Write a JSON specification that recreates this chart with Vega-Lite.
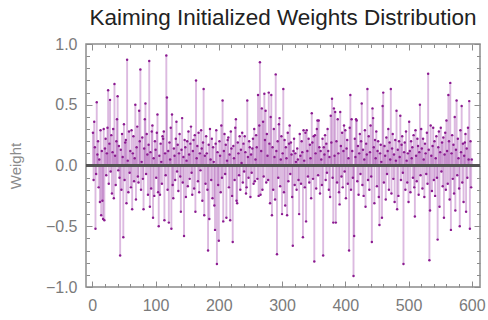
{
  "$schema": "https://vega.github.io/schema/vega-lite/v6.json",
  "width": 394,
  "height": 243,
  "autosize": "none",
  "padding": {"left": 86, "top": 44, "right": 8, "bottom": 33},
  "background": "white",
  "config": {
    "view": {"stroke": "#8c8c8c", "strokeWidth": 1.5},
    "axis": {"grid": false, "domain": false, "labelFont": "Liberation Sans", "labelFontSize": 16, "labelColor": "#7a7a7a", "tickColor": "#8c8c8c", "titleFont": "Liberation Sans", "titleFontWeight": "normal", "titleColor": "#8a8a8a", "titleFontSize": 15}
  },
  "title": {"text": "Kaiming Initialized Weights Distribution", "font": "Liberation Sans", "fontSize": 22.5, "fontWeight": "normal", "color": "#222222", "anchor": "middle", "offset": 7},
  "data": {"name": "d", "values": [
{"i":1,"w":0.27},{"i":2,"w":-0.12},{"i":3,"w":0.36},{"i":4,"w":0.15},{"i":5,"w":-0.52},{"i":6,"w":-0.07},{"i":7,"w":0.52},{"i":8,"w":0.09},{"i":9,"w":0.2},{"i":10,"w":-0.18},
{"i":11,"w":0.05},{"i":12,"w":-0.3},{"i":13,"w":0.29},{"i":14,"w":-0.41},{"i":15,"w":0.12},{"i":16,"w":-0.29},{"i":17,"w":-0.44},{"i":18,"w":0.3},{"i":19,"w":-0.45},{"i":20,"w":0.14},
{"i":21,"w":0.22},{"i":22,"w":-0.08},{"i":23,"w":0.1},{"i":24,"w":0.31},{"i":25,"w":0.62},{"i":26,"w":-0.15},{"i":27,"w":0.18},{"i":28,"w":0.54},{"i":29,"w":-0.05},{"i":30,"w":0.25},
{"i":31,"w":-0.23},{"i":32,"w":0.11},{"i":33,"w":0.3},{"i":34,"w":-0.27},{"i":35,"w":0.67},{"i":36,"w":0.08},{"i":37,"w":-0.16},{"i":38,"w":0.2},{"i":39,"w":0.38},{"i":40,"w":0.57},
{"i":41,"w":-0.04},{"i":42,"w":0.16},{"i":43,"w":-0.1},{"i":44,"w":-0.74},{"i":45,"w":0.13},{"i":46,"w":-0.2},{"i":47,"w":0.26},{"i":48,"w":0.07},{"i":49,"w":-0.59},{"i":50,"w":0.34},
{"i":51,"w":-0.12},{"i":52,"w":0.19},{"i":53,"w":0.21},{"i":54,"w":-0.31},{"i":55,"w":0.87},{"i":56,"w":0.04},{"i":57,"w":-0.22},{"i":58,"w":0.28},{"i":59,"w":-0.06},{"i":60,"w":0.12},
{"i":61,"w":-0.18},{"i":62,"w":0.29},{"i":63,"w":-0.36},{"i":64,"w":0.1},{"i":65,"w":0.24},{"i":66,"w":-0.13},{"i":67,"w":0.06},{"i":68,"w":0.5},{"i":69,"w":-0.28},{"i":70,"w":0.15},
{"i":71,"w":0.32},{"i":72,"w":-0.09},{"i":73,"w":-0.14},{"i":74,"w":0.45},{"i":75,"w":0.2},{"i":76,"w":0.79},{"i":77,"w":-0.2},{"i":78,"w":0.03},{"i":79,"w":0.23},{"i":80,"w":-0.11},
{"i":81,"w":-0.36},{"i":82,"w":0.14},{"i":83,"w":0.38},{"i":84,"w":0.51},{"i":85,"w":-0.07},{"i":86,"w":0.26},{"i":87,"w":0.09},{"i":88,"w":-0.24},{"i":89,"w":0.17},{"i":90,"w":0.86},
{"i":91,"w":-0.34},{"i":92,"w":0.11},{"i":93,"w":-0.19},{"i":94,"w":0.28},{"i":95,"w":0.33},{"i":96,"w":-0.43},{"i":97,"w":0.06},{"i":98,"w":-0.25},{"i":99,"w":0.2},{"i":100,"w":0.13},
{"i":101,"w":-0.1},{"i":102,"w":0.27},{"i":103,"w":0.42},{"i":104,"w":-0.22},{"i":105,"w":-0.5},{"i":106,"w":0.08},{"i":107,"w":-0.24},{"i":108,"w":0.18},{"i":109,"w":0.03},{"i":110,"w":-0.15},
{"i":111,"w":0.24},{"i":112,"w":0.22},{"i":113,"w":0.28},{"i":114,"w":-0.45},{"i":115,"w":0.1},{"i":116,"w":-0.08},{"i":117,"w":0.905},{"i":118,"w":0.56},{"i":119,"w":-0.2},{"i":120,"w":0.12},
{"i":121,"w":-0.47},{"i":122,"w":0.19},{"i":123,"w":0.05},{"i":124,"w":0.31},{"i":125,"w":-0.52},{"i":126,"w":0.42},{"i":127,"w":-0.16},{"i":128,"w":-0.27},{"i":129,"w":0.14},{"i":130,"w":0.08},
{"i":131,"w":-0.12},{"i":132,"w":0.22},{"i":133,"w":0.36},{"i":134,"w":-0.05},{"i":135,"w":0.17},{"i":136,"w":-0.21},{"i":137,"w":0.1},{"i":138,"w":0.26},{"i":139,"w":-0.09},{"i":140,"w":-0.38},
{"i":141,"w":0.13},{"i":142,"w":0.39},{"i":143,"w":-0.14},{"i":144,"w":0.07},{"i":145,"w":-0.58},{"i":146,"w":0.21},{"i":147,"w":0.15},{"i":148,"w":-0.26},{"i":149,"w":0.04},{"i":150,"w":0.2},
{"i":151,"w":-0.17},{"i":152,"w":0.28},{"i":153,"w":0.09},{"i":154,"w":-0.11},{"i":155,"w":0.18},{"i":156,"w":0.32},{"i":157,"w":-0.06},{"i":158,"w":-0.24},{"i":159,"w":0.12},{"i":160,"w":0.21},
{"i":161,"w":-0.19},{"i":162,"w":0.25},{"i":163,"w":-0.38},{"i":164,"w":0.7},{"i":165,"w":0.06},{"i":166,"w":0.16},{"i":167,"w":-0.13},{"i":168,"w":0.27},{"i":169,"w":-0.22},{"i":170,"w":0.1},
{"i":171,"w":-0.04},{"i":172,"w":0.29},{"i":173,"w":0.14},{"i":174,"w":-0.29},{"i":175,"w":0.19},{"i":176,"w":0.63},{"i":177,"w":-0.41},{"i":178,"w":0.08},{"i":179,"w":-0.15},{"i":180,"w":0.24},
{"i":181,"w":0.1},{"i":182,"w":-0.2},{"i":183,"w":-0.7},{"i":184,"w":0.17},{"i":185,"w":-0.44},{"i":186,"w":0.3},{"i":187,"w":0.05},{"i":188,"w":-0.12},{"i":189,"w":0.22},{"i":190,"w":-0.27},
{"i":191,"w":0.15},{"i":192,"w":0.03},{"i":193,"w":-0.33},{"i":194,"w":-0.53},{"i":195,"w":0.18},{"i":196,"w":0.29},{"i":197,"w":-0.81},{"i":198,"w":0.11},{"i":199,"w":-0.16},{"i":200,"w":-0.62},
{"i":201,"w":0.2},{"i":202,"w":0.08},{"i":203,"w":-0.22},{"i":204,"w":0.33},{"i":205,"w":-0.1},{"i":206,"w":0.535},{"i":207,"w":-0.46},{"i":208,"w":0.12},{"i":209,"w":0.26},{"i":210,"w":-0.07},
{"i":211,"w":0.17},{"i":212,"w":-0.43},{"i":213,"w":0.04},{"i":214,"w":0.21},{"i":215,"w":0.23},{"i":216,"w":-0.18},{"i":217,"w":0.09},{"i":218,"w":-0.45},{"i":219,"w":0.28},{"i":220,"w":0.14},
{"i":221,"w":-0.25},{"i":222,"w":-0.63},{"i":223,"w":0.16},{"i":224,"w":0.06},{"i":225,"w":-0.12},{"i":226,"w":0.31},{"i":227,"w":0.38},{"i":228,"w":-0.29},{"i":229,"w":-0.31},{"i":230,"w":0.19},
{"i":231,"w":0.1},{"i":232,"w":-0.08},{"i":233,"w":0.24},{"i":234,"w":-0.2},{"i":235,"w":0.13},{"i":236,"w":0.02},{"i":237,"w":0.27},{"i":238,"w":-0.14},{"i":239,"w":0.18},{"i":240,"w":-0.05},
{"i":241,"w":0.24},{"i":242,"w":0.11},{"i":243,"w":-0.23},{"i":244,"w":-0.18},{"i":245,"w":0.535},{"i":246,"w":0.07},{"i":247,"w":-0.1},{"i":248,"w":0.2},{"i":249,"w":0.15},{"i":250,"w":-0.26},
{"i":251,"w":0.09},{"i":252,"w":-0.06},{"i":253,"w":0.14},{"i":254,"w":0.22},{"i":255,"w":-0.15},{"i":256,"w":0.3},{"i":257,"w":-0.13},{"i":258,"w":0.05},{"i":259,"w":0.25},{"i":260,"w":0.15},
{"i":261,"w":-0.11},{"i":262,"w":0.58},{"i":263,"w":-0.25},{"i":264,"w":0.33},{"i":265,"w":0.85},{"i":266,"w":-0.24},{"i":267,"w":0.12},{"i":268,"w":0.47},{"i":269,"w":-0.2},{"i":270,"w":0.36},
{"i":271,"w":-0.09},{"i":272,"w":0.59},{"i":273,"w":0.21},{"i":274,"w":0.45},{"i":275,"w":-0.14},{"i":276,"w":0.26},{"i":277,"w":0.08},{"i":278,"w":-0.12},{"i":279,"w":0.6},{"i":280,"w":0.18},
{"i":281,"w":-0.31},{"i":282,"w":0.4},{"i":283,"w":0.58},{"i":284,"w":-0.41},{"i":285,"w":0.15},{"i":286,"w":-0.2},{"i":287,"w":0.3},{"i":288,"w":0.07},{"i":289,"w":-0.28},{"i":290,"w":0.75},
{"i":291,"w":0.12},{"i":292,"w":-0.73},{"i":293,"w":0.2},{"i":294,"w":-0.1},{"i":295,"w":0.34},{"i":296,"w":0.39},{"i":297,"w":-0.17},{"i":298,"w":0.05},{"i":299,"w":0.24},{"i":300,"w":-0.4},
{"i":301,"w":0.1},{"i":302,"w":0.63},{"i":303,"w":-0.22},{"i":304,"w":0.21},{"i":305,"w":-0.33},{"i":306,"w":0.15},{"i":307,"w":0.06},{"i":308,"w":-0.41},{"i":309,"w":0.27},{"i":310,"w":-0.13},
{"i":311,"w":0.18},{"i":312,"w":0.33},{"i":313,"w":-0.07},{"i":314,"w":0.19},{"i":315,"w":0.09},{"i":316,"w":-0.26},{"i":317,"w":-0.66},{"i":318,"w":0.12},{"i":319,"w":0.22},{"i":320,"w":-0.16},
{"i":321,"w":0.1},{"i":322,"w":0.03},{"i":323,"w":-0.2},{"i":324,"w":0.14},{"i":325,"w":0.05},{"i":326,"w":-0.12},{"i":327,"w":-0.4},{"i":328,"w":0.26},{"i":329,"w":0.08},{"i":330,"w":-0.15},
{"i":331,"w":0.2},{"i":332,"w":0.11},{"i":333,"w":-0.59},{"i":334,"w":0.29},{"i":335,"w":0.04},{"i":336,"w":-0.18},{"i":337,"w":0.27},{"i":338,"w":-0.46},{"i":339,"w":0.29},{"i":340,"w":0.12},
{"i":341,"w":-0.09},{"i":342,"w":0.22},{"i":343,"w":-0.14},{"i":344,"w":0.17},{"i":345,"w":0.06},{"i":346,"w":-0.27},{"i":347,"w":0.43},{"i":348,"w":0.19},{"i":349,"w":-0.11},{"i":350,"w":0.24},
{"i":351,"w":-0.79},{"i":352,"w":0.25},{"i":353,"w":0.1},{"i":354,"w":-0.19},{"i":355,"w":0.3},{"i":356,"w":0.37},{"i":357,"w":-0.08},{"i":358,"w":0.37},{"i":359,"w":0.15},{"i":360,"w":-0.23},
{"i":361,"w":0.12},{"i":362,"w":0.05},{"i":363,"w":-0.16},{"i":364,"w":0.22},{"i":365,"w":-0.74},{"i":366,"w":0.15},{"i":367,"w":0.09},{"i":368,"w":0.25},{"i":369,"w":-0.12},{"i":370,"w":0.18},
{"i":371,"w":-0.06},{"i":372,"w":0.3},{"i":373,"w":0.12},{"i":374,"w":-0.2},{"i":375,"w":0.07},{"i":376,"w":-0.26},{"i":377,"w":0.41},{"i":378,"w":0.19},{"i":379,"w":0.55},{"i":380,"w":-0.1},
{"i":381,"w":-0.47},{"i":382,"w":0.47},{"i":383,"w":0.08},{"i":384,"w":0.44},{"i":385,"w":-0.47},{"i":386,"w":0.2},{"i":387,"w":-0.14},{"i":388,"w":0.38},{"i":389,"w":0.1},{"i":390,"w":-0.22},
{"i":391,"w":-0.32},{"i":392,"w":0.44},{"i":393,"w":0.16},{"i":394,"w":-0.09},{"i":395,"w":0.27},{"i":396,"w":-0.18},{"i":397,"w":0.12},{"i":398,"w":0.33},{"i":399,"w":-0.05},{"i":400,"w":0.29},
{"i":401,"w":-0.27},{"i":402,"w":0.14},{"i":403,"w":0.21},{"i":404,"w":-0.15},{"i":405,"w":0.06},{"i":406,"w":-0.7},{"i":407,"w":0.31},{"i":408,"w":0.58},{"i":409,"w":-0.2},{"i":410,"w":0.38},
{"i":411,"w":0.12},{"i":412,"w":-0.1},{"i":413,"w":-0.91},{"i":414,"w":-0.58},{"i":415,"w":0.22},{"i":416,"w":0.07},{"i":417,"w":0.38},{"i":418,"w":0.37},{"i":419,"w":-0.13},{"i":420,"w":0.16},
{"i":421,"w":-0.24},{"i":422,"w":0.1},{"i":423,"w":0.26},{"i":424,"w":-0.07},{"i":425,"w":0.2},{"i":426,"w":0.51},{"i":427,"w":-0.16},{"i":428,"w":0.13},{"i":429,"w":-0.25},{"i":430,"w":0.05},
{"i":431,"w":0.29},{"i":432,"w":-0.34},{"i":433,"w":0.18},{"i":434,"w":0.09},{"i":435,"w":0.63},{"i":436,"w":-0.12},{"i":437,"w":0.24},{"i":438,"w":-0.2},{"i":439,"w":0.11},{"i":440,"w":0.33},
{"i":441,"w":-0.09},{"i":442,"w":-0.63},{"i":443,"w":0.47},{"i":444,"w":0.39},{"i":445,"w":0.15},{"i":446,"w":-0.31},{"i":447,"w":0.21},{"i":448,"w":0.06},{"i":449,"w":0.28},{"i":450,"w":-0.17},
{"i":451,"w":0.12},{"i":452,"w":0.2},{"i":453,"w":-0.26},{"i":454,"w":-0.49},{"i":455,"w":0.1},{"i":456,"w":0.17},{"i":457,"w":0.03},{"i":458,"w":-0.43},{"i":459,"w":0.49},{"i":460,"w":0.6},
{"i":461,"w":-0.14},{"i":462,"w":0.16},{"i":463,"w":0.08},{"i":464,"w":-0.28},{"i":465,"w":0.23},{"i":466,"w":-0.07},{"i":467,"w":0.12},{"i":468,"w":0.3},{"i":469,"w":-0.2},{"i":470,"w":0.19},
{"i":471,"w":0.05},{"i":472,"w":0.63},{"i":473,"w":-0.23},{"i":474,"w":0.14},{"i":475,"w":0.26},{"i":476,"w":-0.11},{"i":477,"w":0.09},{"i":478,"w":-0.3},{"i":479,"w":0.21},{"i":480,"w":0.04},
{"i":481,"w":0.45},{"i":482,"w":-0.36},{"i":483,"w":0.13},{"i":484,"w":-0.25},{"i":485,"w":0.2},{"i":486,"w":0.07},{"i":487,"w":0.41},{"i":488,"w":-0.12},{"i":489,"w":0.17},{"i":490,"w":0.24},
{"i":491,"w":-0.06},{"i":492,"w":-0.81},{"i":493,"w":0.11},{"i":494,"w":0.19},{"i":495,"w":-0.2},{"i":496,"w":0.28},{"i":497,"w":0.04},{"i":498,"w":-0.14},{"i":499,"w":0.1},{"i":500,"w":-0.3},
{"i":501,"w":0.36},{"i":502,"w":0.12},{"i":503,"w":-0.22},{"i":504,"w":0.2},{"i":505,"w":0.06},{"i":506,"w":0.15},{"i":507,"w":-0.1},{"i":508,"w":0.25},{"i":509,"w":-0.18},{"i":510,"w":-0.42},
{"i":511,"w":0.29},{"i":512,"w":0.08},{"i":513,"w":-0.13},{"i":514,"w":0.22},{"i":515,"w":0.16},{"i":516,"w":-0.24},{"i":517,"w":0.11},{"i":518,"w":0.5},{"i":519,"w":-0.08},{"i":520,"w":0.3},
{"i":521,"w":0.14},{"i":522,"w":-0.19},{"i":523,"w":0.22},{"i":524,"w":0.05},{"i":525,"w":-0.26},{"i":526,"w":0.18},{"i":527,"w":0.1},{"i":528,"w":-0.07},{"i":529,"w":0.27},{"i":530,"w":-0.15},
{"i":531,"w":0.755},{"i":532,"w":0.13},{"i":533,"w":-0.78},{"i":534,"w":-0.37},{"i":535,"w":0.33},{"i":536,"w":0.08},{"i":537,"w":-0.21},{"i":538,"w":0.16},{"i":539,"w":0.31},{"i":540,"w":-0.12},
{"i":541,"w":0.2},{"i":542,"w":-0.25},{"i":543,"w":0.06},{"i":544,"w":0.24},{"i":545,"w":-0.1},{"i":546,"w":-0.61},{"i":547,"w":0.15},{"i":548,"w":0.28},{"i":549,"w":-0.34},{"i":550,"w":0.11},
{"i":551,"w":0.31},{"i":552,"w":-0.05},{"i":553,"w":0.19},{"i":554,"w":-0.17},{"i":555,"w":0.23},{"i":556,"w":-0.43},{"i":557,"w":0.09},{"i":558,"w":0.27},{"i":559,"w":-0.2},{"i":560,"w":0.37},
{"i":561,"w":0.12},{"i":562,"w":-0.15},{"i":563,"w":0.58},{"i":564,"w":0.2},{"i":565,"w":-0.28},{"i":566,"w":0.68},{"i":567,"w":-0.53},{"i":568,"w":0.1},{"i":569,"w":0.25},{"i":570,"w":-0.11},
{"i":571,"w":0.17},{"i":572,"w":-0.23},{"i":573,"w":0.4},{"i":574,"w":-0.37},{"i":575,"w":0.13},{"i":576,"w":0.535},{"i":577,"w":-0.08},{"i":578,"w":0.22},{"i":579,"w":0.06},{"i":580,"w":-0.19},
{"i":581,"w":-0.5},{"i":582,"w":0.29},{"i":583,"w":0.11},{"i":584,"w":0.49},{"i":585,"w":-0.14},{"i":586,"w":0.18},{"i":587,"w":-0.3},{"i":588,"w":0.08},{"i":589,"w":0.19},{"i":590,"w":0.26},
{"i":591,"w":-0.38},{"i":592,"w":0.14},{"i":593,"w":-0.1},{"i":594,"w":0.31},{"i":595,"w":0.05},{"i":596,"w":0.53},{"i":597,"w":-0.52},{"i":598,"w":0.2},{"i":599,"w":-0.18},{"i":600,"w":0.05}
  ]},
  "resolve": {"axis": {"x": "independent", "y": "independent"}},
  "layer": [
    {
      "mark": {"type": "rule", "stroke": "#a24aae", "strokeOpacity": 0.38, "strokeWidth": 1.9},
      "encoding": {
        "x": {"field": "i", "type": "quantitative", "scale": {"domain": [-10, 613], "nice": false, "zero": false},
              "axis": {"orient": "bottom", "title": null, "values": [0, 100, 200, 300, 400, 500, 600], "tickSize": -6, "labelPadding": 16, "labelFlush": false}},
        "y": {"field": "w", "type": "quantitative", "scale": {"domain": [-1, 1], "nice": false},
              "axis": {"orient": "left", "title": "Weight", "values": [-1, -0.5, 0, 0.5, 1], "format": ".1f", "tickSize": -6, "labelPadding": 15, "titlePadding": 22, "labelFlush": false}},
        "y2": {"datum": 0}
      }
    },
    {
      "mark": {"type": "rule", "stroke": "#555555", "strokeWidth": 1.6},
      "encoding": {"y": {"datum": 0, "axis": null}}
    },
    {
      "mark": {"type": "circle", "color": "#8b1a90", "opacity": 1, "size": 6},
      "encoding": {
        "x": {"field": "i", "type": "quantitative",
              "axis": {"orient": "bottom", "title": null, "labels": false, "values": [20, 40, 60, 80, 120, 140, 160, 180, 220, 240, 260, 280, 320, 340, 360, 380, 420, 440, 460, 480, 520, 540, 560, 580], "tickSize": -3.5}},
        "y": {"field": "w", "type": "quantitative",
              "axis": {"orient": "left", "title": null, "labels": false, "values": [-0.9, -0.8, -0.7, -0.6, -0.4, -0.3, -0.2, -0.1, 0.1, 0.2, 0.3, 0.4, 0.6, 0.7, 0.8, 0.9], "tickSize": -3.5}}
      }
    },
    {
      "mark": {"type": "circle", "opacity": 0, "size": 1},
      "encoding": {
        "x": {"field": "i", "type": "quantitative",
              "axis": {"orient": "top", "title": null, "labels": false, "values": [0, 100, 200, 300, 400, 500, 600], "tickSize": -6}},
        "y": {"field": "w", "type": "quantitative",
              "axis": {"orient": "right", "title": null, "labels": false, "values": [-1, -0.5, 0, 0.5, 1], "tickSize": -6}}
      }
    },
    {
      "mark": {"type": "circle", "opacity": 0, "size": 1},
      "encoding": {
        "x": {"field": "i", "type": "quantitative",
              "axis": {"orient": "top", "title": null, "labels": false, "values": [20, 40, 60, 80, 120, 140, 160, 180, 220, 240, 260, 280, 320, 340, 360, 380, 420, 440, 460, 480, 520, 540, 560, 580], "tickSize": -3.5}},
        "y": {"field": "w", "type": "quantitative",
              "axis": {"orient": "right", "title": null, "labels": false, "values": [-0.9, -0.8, -0.7, -0.6, -0.4, -0.3, -0.2, -0.1, 0.1, 0.2, 0.3, 0.4, 0.6, 0.7, 0.8, 0.9], "tickSize": -3.5}}
      }
    }
  ]
}
